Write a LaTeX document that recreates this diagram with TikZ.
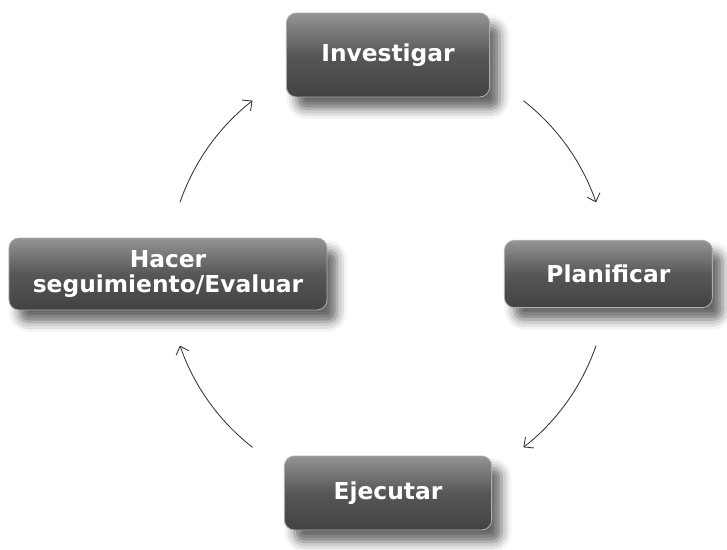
\documentclass[tikz,border=0pt]{standalone}
\usepackage{fontspec}
\setmainfont{DejaVu Sans}
\usetikzlibrary{positioning}
\usetikzlibrary{arrows.meta, shadows.blur}

\tikzset{
  stage/.style={rectangle, rounded corners=0.25cm, top color=black!42, bottom color=black!74, middle color=black!66,
    draw=black!32, line width=0.6pt, text=white, align=center, inner sep=0pt,
    font=\bfseries\fontsize{16.6}{17.5}\selectfont,
    blur shadow={shadow xshift=0.25cm, shadow yshift=-0.3cm, shadow blur radius=0.25cm, shadow opacity=60}},
  flow/.style={-{Straight Barb[length=1.8mm, width=3.4mm]}, draw=black!80, line width=0.6pt}
}

\begin{document}
\begin{tikzpicture}
        \useasboundingbox (-9.7,-6.875) rectangle (8.475,6.85);
        % Stages
        \node[stage, minimum width=5.08cm, minimum height=2.1cm] (investigar) at (0,5.475) {Investigar};
        \node[stage, minimum width=5.2cm, minimum height=1.68cm] (planificar) at (5.51,0) {Planificar};
        \node[stage, minimum width=5.18cm, minimum height=1.85cm] (ejecutar) at (0,-5.475) {Ejecutar};
        \node[stage, minimum width=7.95cm, minimum height=1.8cm] (evaluar) at (-5.5,0) {Hacer\\seguimiento/Evaluar};
        % Cycle arrows
        \coordinate (center) at (0,0);
        \foreach \a/\b in {52/19, -19/-52, 232/199, 161/128}
            \draw[flow] (center) ++(\a:5.5) arc (\a:\b:5.5);
\end{tikzpicture}
\end{document}
